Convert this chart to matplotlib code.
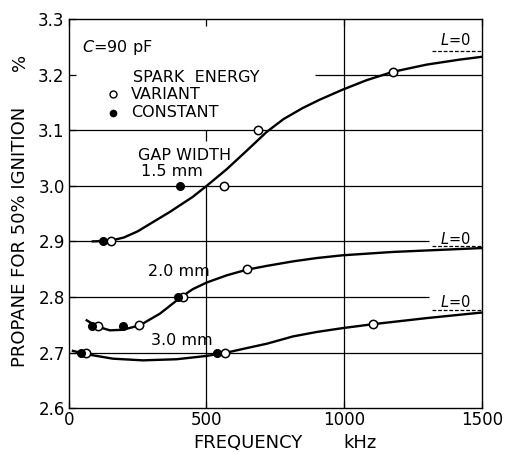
import numpy as np
import matplotlib.pyplot as plt

plt.rcParams['font.family'] = ['DejaVu Sans']

# curves (frequency kHz, propane %)
f15 = [87, 150, 200, 250, 300, 367, 450, 501, 574, 646, 719, 780, 850, 912, 995, 1082, 1177, 1300, 1420, 1500]
c15 = [2.900, 2.901, 2.907, 2.918, 2.933, 2.953, 2.980, 3.000, 3.030, 3.063, 3.097, 3.120, 3.140, 3.155, 3.173, 3.190, 3.205, 3.218, 3.227, 3.232]
f20 = [65, 102, 149, 196, 258, 331, 403, 450, 501, 574, 646, 720, 814, 900, 995, 1177, 1500]
c20 = [2.758, 2.747, 2.740, 2.741, 2.749, 2.770, 2.798, 2.814, 2.826, 2.839, 2.849, 2.856, 2.864, 2.870, 2.875, 2.881, 2.888]
f30 = [15, 65, 160, 269, 392, 501, 574, 646, 720, 814, 900, 995, 1104, 1300, 1500]
c30 = [2.703, 2.697, 2.689, 2.686, 2.688, 2.694, 2.700, 2.708, 2.716, 2.729, 2.737, 2.744, 2.751, 2.762, 2.772]

# measured points
var_f = [152, 563, 687, 1177, 105, 255, 413, 646, 62, 567, 1104]
var_y = [2.90, 3.00, 3.10, 3.205, 2.748, 2.75, 2.80, 2.85, 2.70, 2.70, 2.751]
con_f = [124, 403, 83, 197, 397, 44, 538]
con_y = [2.90, 3.00, 2.748, 2.747, 2.80, 2.70, 2.70]

# L=0 limits
lim_y = [3.243, 2.891, 2.776]
lim_lab_y = [3.262, 2.904, 2.791]

fig = plt.figure(figsize=(5.06, 4.53), dpi=100)
ax = fig.add_axes([0.136, 0.099, 0.816, 0.859])
ax.set_xlim(0, 1500)
ax.set_ylim(2.6, 3.3)

gk = dict(color='black', lw=0.9, zorder=1)
ax.hlines([3.1, 3.0, 2.7], 0, 1500, **gk)
ax.hlines([2.9, 2.8], 0, 1310, **gk)
ax.hlines(3.2, 894, 1500, **gk)
ax.vlines(1000, 2.6, 3.3, **gk)
ax.vlines(500, 2.6, 3.0, **gk)
ax.vlines(500, 3.08, 3.1, **gk)

for f, c in [(f15, c15), (f20, c20), (f30, c30)]:
    ax.plot(f, c, color='black', lw=1.7, zorder=2)

ax.plot(var_f, var_y, 'o', ms=6, mfc='white', mec='black', mew=1.1, zorder=3)
ax.plot(con_f, con_y, 'o', ms=5.5, color='black', zorder=3)

for yl, yt in zip(lim_y, lim_lab_y):
    ax.hlines(yl, 1318, 1500, colors='black', lw=0.9, linestyles=(0, (3, 1.5)))
    ax.text(1405, yt, '$L$=0', ha='center', va='center', fontsize=10.5)

fs = 11.5
ax.text(47, 3.248, '$C$=90 pF', fontsize=fs, va='center')
ax.text(232, 3.194, 'SPARK  ENERGY', fontsize=fs, va='center')
ax.plot([160], [3.165], 'o', ms=5, mfc='white', mec='black', mew=1)
ax.text(225, 3.165, 'VARIANT', fontsize=fs, va='center')
ax.plot([160], [3.131], 'o', ms=4.5, color='black')
ax.text(225, 3.131, 'CONSTANT', fontsize=fs, va='center')
ax.text(251, 3.054, 'GAP WIDTH', fontsize=fs, va='center')
ax.text(262, 3.025, '1.5 mm', fontsize=fs, va='center')
ax.text(287, 2.846, '2.0 mm', fontsize=fs, va='center')
ax.text(298, 2.722, '3.0 mm', fontsize=fs, va='center')

ax.set_yticks([2.6, 2.7, 2.8, 2.9, 3.0, 3.1, 3.2, 3.3])
ax.set_yticklabels(['2.6', '2.7', '2.8', '2.9', '3.0', '3.1', '3.2', '3.3'], fontsize=12)
ax.set_xticks([0, 500, 1000, 1500])
ax.set_xticklabels(['0', '500', '1000', '1500'], fontsize=12)
ax.tick_params(axis='y', direction='in', length=5, width=0.9, pad=3)
ax.tick_params(axis='x', direction='in', length=5, width=0.9, pad=2, top=True)
for s in ax.spines.values():
    s.set_linewidth(1.0)

fig.text(0.04, 0.477, 'PROPANE FOR 50% IGNITION', rotation=90, ha='center', va='center', fontsize=13)
fig.text(0.04, 0.863, '%', rotation=90, ha='center', va='center', fontsize=13)
fig.text(0.49, 0.022, 'FREQUENCY', ha='center', va='center', fontsize=13)
fig.text(0.711, 0.022, 'kHz', ha='center', va='center', fontsize=13)

fig.savefig('out.png', dpi=100)
